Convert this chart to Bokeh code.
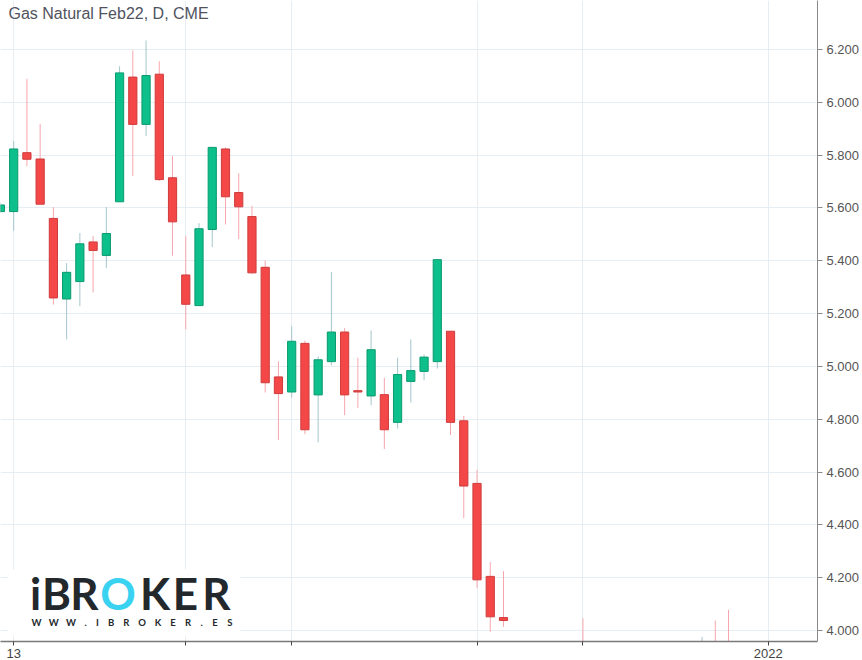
from bokeh.plotting import figure
from bokeh.models import (Range1d, FixedTicker, NumeralTickFormatter, Label, LabelSet,
                          BoxAnnotation, ColumnDataSource)
from bokeh.embed import file_html
from bokeh.resources import INLINE
from bokeh.core.properties import value

# ---------------- data ----------------
idx = list(range(0, 39)) + [44, 53, 54, 55]
opens = [5.586, 5.586, 5.809, 5.785, 5.560, 5.255, 5.321, 5.471, 5.420, 5.623,
         6.095, 5.916, 6.106, 5.714, 5.346, 5.230, 5.518, 5.823, 5.658, 5.567,
         5.375, 4.960, 4.903, 5.087, 4.892, 5.018, 5.130, 4.908, 4.888, 4.893,
         4.788, 4.943, 4.981, 5.018, 5.133, 4.794, 4.557, 4.205, 4.049,
         3.930, 3.900, 3.930, 3.950]
highs = [5.620, 5.853, 6.089, 5.918, 5.603, 5.391, 5.505, 5.494, 5.603, 6.136,
         6.196, 6.234, 6.155, 5.796, 5.494, 5.542, 5.829, 5.829, 5.731, 5.608,
         5.401, 5.019, 5.152, 5.098, 5.038, 5.357, 5.145, 5.033, 5.136, 4.957,
         5.033, 5.102, 5.045, 5.404, 5.133, 4.812, 4.608, 4.259, 4.225,
         4.046, 3.976, 4.038, 4.079]
lows = [5.580, 5.513, 5.758, 5.614, 5.234, 5.102, 5.228, 5.280, 5.372, 5.623,
        5.721, 5.872, 5.702, 5.419, 5.140, 5.230, 5.452, 5.537, 5.482, 5.350,
        4.901, 4.721, 4.882, 4.743, 4.712, 5.004, 4.815, 4.842, 4.853, 4.687,
        4.765, 4.863, 4.947, 4.992, 4.740, 4.425, 4.162, 3.995, 4.014,
        3.860, 3.850, 3.860, 3.890]
closes = [5.611, 5.823, 5.784, 5.614, 5.259, 5.356, 5.464, 5.439, 5.503, 6.111,
          5.916, 6.101, 5.707, 5.547, 5.235, 5.521, 5.829, 5.642, 5.604, 5.354,
          4.938, 4.897, 5.095, 4.760, 5.025, 5.130, 4.892, 4.903, 5.063, 4.760,
          4.969, 4.984, 5.035, 5.404, 4.788, 4.547, 4.192, 4.052, 4.038,
          3.890, 3.950, 3.880, 3.910]

y_ticks = [4.0, 4.2, 4.4, 4.6, 4.8, 5.0, 5.2, 5.4, 5.6, 5.8, 6.0, 6.2]
x_ticks = [1, 14, 22, 36, 44, 58]
x_tick_labels = ["13", "", "", "", "", "2022"]
title_text = "Gas Natural Feb22, D, CME"
logo_word = "iBROKER"
logo_url = "WWW.IBROKER.ES"

# ---------------- styling ----------------
UP_FILL, UP_LINE, UP_WICK = "#0cbf8b", "#0b9a6f", "#a3c6cc"
DN_FILL, DN_LINE, DN_WICK = "#f44848", "#cf3b3b", "#f6a6ae"
GRID = "#e6eef3"
FB = 643  # frame bottom in pixels (frame top is 0) for screen-unit annotations

up = [c >= o for o, c in zip(opens, closes)]
src = ColumnDataSource(dict(
    x=idx, high=highs, low=lows,
    top=[max(o, c) for o, c in zip(opens, closes)],
    bottom=[min(o, c) for o, c in zip(opens, closes)],
    fill=[UP_FILL if u else DN_FILL for u in up],
    line=[UP_LINE if u else DN_LINE for u in up],
    wick=[UP_WICK if u else DN_WICK for u in up],
))

p = figure(width=862, height=660, output_backend="svg", toolbar_location=None,
           x_range=Range1d(0.005, 61.72), y_range=Range1d(3.9585, 6.385),
           y_axis_location="right", min_border_left=0, min_border_top=0,
           min_border_right=0, min_border_bottom=0)
p.outline_line_color = None
p.background_fill_color = "white"
p.border_fill_color = "white"

p.segment(x0="x", y0="low", x1="x", y1="high", color="wick", line_width=1, source=src)
p.vbar(x="x", width=0.62, top="top", bottom="bottom", fill_color="fill",
       line_color="line", line_width=1, source=src)

# axes
p.yaxis.ticker = FixedTicker(ticks=y_ticks)
p.yaxis.formatter = NumeralTickFormatter(format="0.000")
p.yaxis.major_label_text_font = "Liberation Sans"
p.yaxis.major_label_text_font_size = "13px"
p.yaxis.major_label_text_color = "#555555"
p.yaxis.axis_line_color = "#8a8a8a"
p.yaxis.major_tick_line_color = "#8a8a8a"
p.yaxis.major_tick_out = 5
p.yaxis.major_tick_in = 0
p.yaxis.minor_tick_line_color = None
p.yaxis.major_label_standoff = 4

p.xaxis.ticker = FixedTicker(ticks=x_ticks)
p.xaxis.major_label_overrides = {t: l for t, l in zip(x_ticks, x_tick_labels)}
p.xaxis.major_label_text_font = "Liberation Sans"
p.xaxis.major_label_text_font_size = "13px"
p.xaxis.major_label_text_color = "#444444"
p.xaxis.axis_line_color = "#7a7a7a"
p.xaxis.axis_line_width = 1.5
p.xaxis.major_tick_line_color = "#444444"
p.xaxis.major_tick_out = 4
p.xaxis.major_tick_in = 0
p.xaxis.minor_tick_line_color = None
p.xaxis.major_label_standoff = 3

p.xgrid.grid_line_color = GRID
p.ygrid.grid_line_color = GRID
p.xgrid.ticker = FixedTicker(ticks=x_ticks)
p.ygrid.ticker = FixedTicker(ticks=y_ticks)

# title
p.add_layout(Label(x=8, y=FB - 6, x_units="screen", y_units="screen", text=title_text,
                   text_align="left", text_baseline="top", text_font="Liberation Sans",
                   text_font_size="16px", text_color="#50535e"))

# logo: white backing box
p.add_layout(BoxAnnotation(left=8, right=240, bottom=FB - 637, top=FB - 571,
                           left_units="screen", right_units="screen",
                           bottom_units="screen", top_units="screen",
                           fill_color="white", fill_alpha=1, line_alpha=0))
letter_cx = [35, 56, 84, 117.5, 154.5, 185, 216]
logo_src = ColumnDataSource(dict(
    x=letter_cx, y=[FB - 611.7] * len(logo_word), t=list(logo_word),
    c=["#3ad2f1" if ch == "O" else "#23282c" for ch in logo_word]))
p.add_layout(LabelSet(x="x", y="y", text="t", text_color="c", source=logo_src,
                      x_units="screen", y_units="screen", text_align="center",
                      text_baseline="alphabetic", text_font=value("Lato"),
                      text_font_style="bold", text_font_size="44px"))
wid = {"W": 8, ".": 2.5, "I": 2.5, "B": 6, "R": 6, "O": 7, "K": 6, "E": 5.5, "S": 5.5}
total = sum(wid[ch] for ch in logo_url)
track = (200 - total) / (len(logo_url) - 1)
cx, pos = 32.0, []
for ch in logo_url:
    pos.append(cx + wid[ch] / 2)
    cx += wid[ch] + track
url_src = ColumnDataSource(dict(x=pos, y=[FB - 627.7] * len(logo_url), t=list(logo_url)))
p.add_layout(LabelSet(x="x", y="y", text="t", source=url_src, x_units="screen",
                      y_units="screen", text_align="center", text_baseline="alphabetic",
                      text_font=value("Lato"), text_font_style="bold",
                      text_font_size="9.5px", text_color="#23282c"))

open("out.html", "w").write(file_html(p, INLINE))
